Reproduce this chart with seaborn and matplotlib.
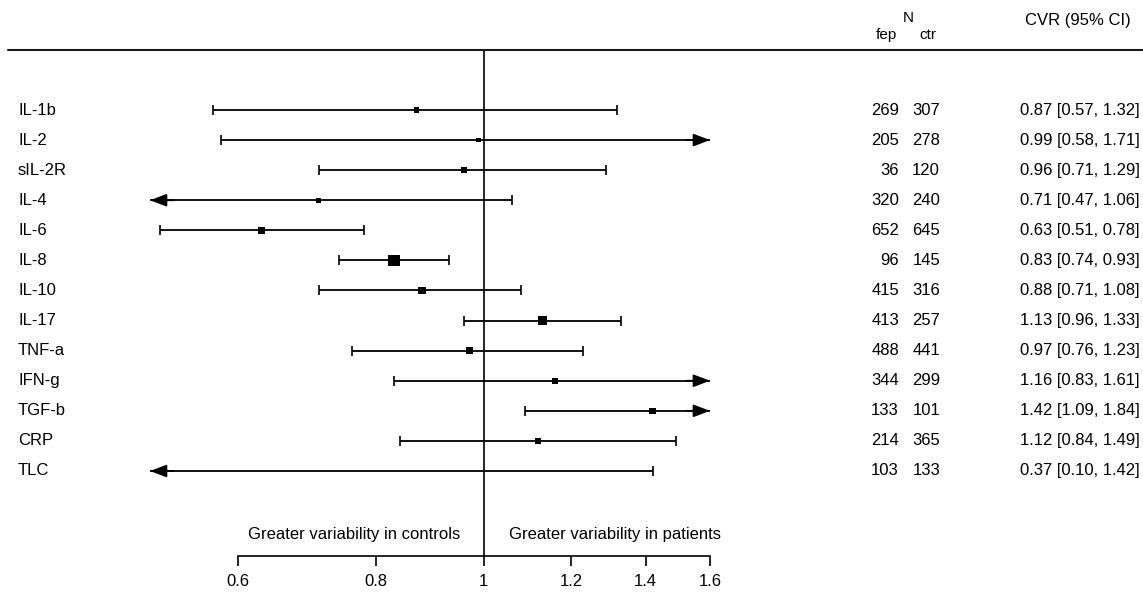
import numpy as np
import pandas as pd
import matplotlib
matplotlib.use("Agg")
import matplotlib.pyplot as plt
import matplotlib.transforms as mtransforms
from matplotlib.lines import Line2D
from matplotlib.ticker import FixedLocator, FixedFormatter, NullLocator
import seaborn as sns

# ---------------- data ----------------
markers = ["IL-1b", "IL-2", "sIL-2R", "IL-4", "IL-6", "IL-8", "IL-10",
           "IL-17", "TNF-a", "IFN-g", "TGF-b", "CRP", "TLC"]
cvr = [0.87, 0.99, 0.96, 0.71, 0.63, 0.83, 0.88, 1.13, 0.97, 1.16, 1.42, 1.12, 0.37]
ci_low = [0.57, 0.58, 0.71, 0.47, 0.51, 0.74, 0.71, 0.96, 0.76, 0.83, 1.09, 0.84, 0.10]
ci_high = [1.32, 1.71, 1.29, 1.06, 0.78, 0.93, 1.08, 1.33, 1.23, 1.61, 1.84, 1.49, 1.42]
n_fep = [269, 205, 36, 320, 652, 96, 415, 413, 488, 344, 133, 214, 103]
n_ctr = [307, 278, 120, 240, 645, 145, 316, 257, 441, 299, 101, 365, 133]
tick_values = [0.6, 0.8, 1, 1.2, 1.4, 1.6]
tick_labels = ["0.6", "0.8", "1", "1.2", "1.4", "1.6"]
label_left = "Greater variability in controls"
label_right = "Greater variability in patients"

# ---------------- setup ----------------
sns.set_theme(style="white")
plt.rcParams["font.family"] = ["Liberation Sans", "DejaVu Sans"]
plt.rcParams["text.color"] = "black"
plt.rcParams["xtick.color"] = "black"
plt.rcParams["xtick.labelcolor"] = "black"

W, H = 1143, 594
fig = plt.figure(figsize=(W / 100, H / 100), dpi=100)
ax = fig.add_axes([150 / W, (H - 556) / H, 560 / W, (556 - 50) / H])

k = len(markers)
df = pd.DataFrame({"marker": markers, "cvr": cvr, "lo": ci_low, "hi": ci_high,
                   "fep": n_fep, "ctr": n_ctr})
df["row"] = np.arange(k, 0, -1)

# box sizes as in metafor (proportional to 1/SE, rescaled to 0.5..1.5)
se = (np.log(df["hi"]) - np.log(df["lo"])) / (2 * 1.96)
wi = 1 / se
psize = (wi - wi.min()) / (wi.max() - wi.min()) + 0.5
df["area"] = (5.4 * psize) ** 2

xmin, xmax = 0.5, 1.6
ax.set_xscale("log")
ax.set_xlim(xmin, xmax)
ax.set_ylim(1 - (556 - 471) / 30.083, k + (110 - 50) / 30.083)

# reference line
ax.axvline(1, color="black", lw=1.2, zorder=1)

# confidence intervals
ax.errorbar(df["cvr"], df["row"],
            xerr=[df["cvr"] - df["lo"], df["hi"] - df["cvr"]],
            fmt="none", ecolor="black", elinewidth=1.3, capsize=3.5, capthick=1.2,
            zorder=2)

# arrows for truncated intervals
astyle = dict(arrowstyle="-|>,head_length=1.0,head_width=0.38",
              mutation_scale=10, color="black", lw=1.3, shrinkA=0, shrinkB=0)
for _, r in df.iterrows():
    if r["lo"] < xmin:
        ax.annotate("", xy=(xmin, r["row"]), xytext=(xmin * 1.05, r["row"]),
                    arrowprops=astyle, zorder=3)
    if r["hi"] > xmax:
        ax.annotate("", xy=(xmax, r["row"]), xytext=(xmax / 1.05, r["row"]),
                    arrowprops=astyle, zorder=3)

# point estimates
sns.scatterplot(data=df, x="cvr", y="row", size="area",
                sizes=(df["area"].min(), df["area"].max()),
                marker="s", color="black", linewidth=0, legend=False, ax=ax,
                zorder=4)

# axes styling
for s in ["top", "right", "left"]:
    ax.spines[s].set_visible(False)
ax.spines["bottom"].set_bounds(tick_values[0], tick_values[-1])
ax.spines["bottom"].set_linewidth(1.2)
ax.spines["bottom"].set_color("black")
ax.xaxis.set_major_locator(FixedLocator(tick_values))
ax.xaxis.set_major_formatter(FixedFormatter(tick_labels))
ax.xaxis.set_minor_locator(NullLocator())
ax.set_yticks([])
ax.tick_params(axis="x", direction="out", length=7, width=1.2, pad=6,
               labelsize=12, colors="black", bottom=True)
ax.set_xlabel("")
ax.set_ylabel("")
ax.patch.set_alpha(0)

# direction labels
ylab = 1 - (535 - 471) / 30.083
ax.annotate(label_left, xy=(1, ylab), xytext=(-17, 0), textcoords="offset points",
            ha="right", va="center", fontsize=12, color="black")
ax.annotate(label_right, xy=(1, ylab), xytext=(18, 0), textcoords="offset points",
            ha="left", va="center", fontsize=12, color="black")

# text columns
tr = mtransforms.blended_transform_factory(fig.transFigure, ax.transData)
for _, r in df.iterrows():
    y = r["row"]
    ax.text(18 / W, y, r["marker"], transform=tr, ha="left", va="center",
            fontsize=12, clip_on=False, color="black")
    ax.text(899 / W, y, f"{r['fep']}", transform=tr, ha="right", va="center",
            fontsize=12, clip_on=False, color="black")
    ax.text(940 / W, y, f"{r['ctr']}", transform=tr, ha="right", va="center",
            fontsize=12, clip_on=False, color="black")
    ax.text(1140 / W, y, f"{r['cvr']:.2f} [{r['lo']:.2f}, {r['hi']:.2f}]",
            transform=tr, ha="right", va="center", fontsize=12, clip_on=False,
            color="black")

# header
fig.add_artist(Line2D([8 / W, 1.0], [1 - 50 / H, 1 - 50 / H],
                      transform=fig.transFigure, color="#1a1a1a", lw=1.5))
fig.text(908 / W, 1 - 18 / H, "N", ha="center", va="center", fontsize=11)
fig.text(886 / W, 1 - 39 / H, "fep", ha="center", va="baseline", fontsize=11)
fig.text(928 / W, 1 - 39 / H, "ctr", ha="center", va="baseline", fontsize=11)
fig.text(1131 / W, 1 - 21 / H, "CVR (95% CI)", ha="right", va="center", fontsize=12)

fig.savefig("out.png", dpi=100)
